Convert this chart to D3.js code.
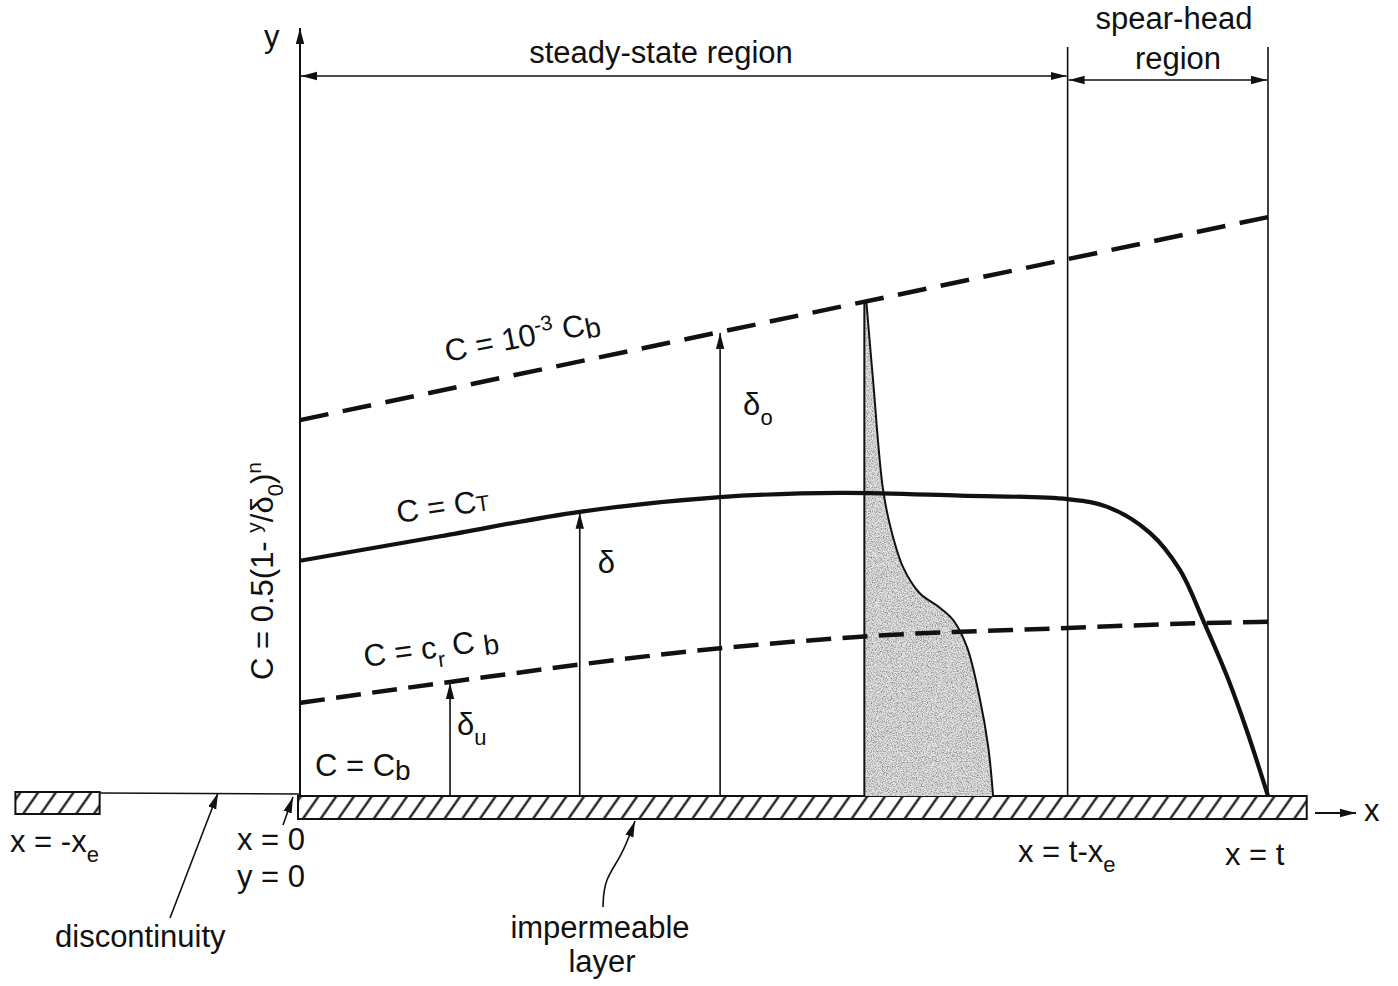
<!DOCTYPE html>
<html><head><meta charset="utf-8">
<script src="https://cdn.jsdelivr.net/npm/d3@7"></script>
<style>html,body{margin:0;background:#fff}svg{display:block}</style>
</head><body>
<svg id="chart"></svg>
<script>
// Concentration layers above an impermeable bed: x runs along the bed (front at x = t), y upward.
const W = 1398, H = 986;

// Outer edge of the layer, C = 10^-3 Cb (thickness δo)
const outerX = [0, 1];
const outerY = [0.537, 0.827];
// C = CT boundary (thickness δ): rises in the steady-state region, drops to the bed in the spear-head
const ctX = [0, 0.145, 0.289, 0.434, 0.558, 0.682, 0.793, 0.834, 0.878, 0.909, 0.933, 0.958, 0.978, 1];
const ctY = [0.336, 0.371, 0.406, 0.427, 0.433, 0.429, 0.424, 0.413, 0.376, 0.323, 0.251, 0.170, 0.094, 0];
// Inner boundary, C = cr Cb (thickness δu)
const innerX = [0, 0.155, 0.434, 0.583, 0.793, 0.933, 1];
const innerY = [0.133, 0.163, 0.211, 0.228, 0.240, 0.247, 0.249];
// Concentration profile at one station (right edge, top to bed)
const profX = [0.585, 0.592, 0.602, 0.610, 0.623, 0.640, 0.661, 0.675, 0.689, 0.702, 0.711, 0.716];
const profY = [0.707, 0.594, 0.441, 0.384, 0.327, 0.290, 0.269, 0.251, 0.213, 0.141, 0.070, 0];
const profStation = 0.583;
// Stations where the thicknesses are marked
const thickX = [0.155, 0.289, 0.434];
// Positions along the bed
const xe = 0.207;
const bedEnd = 1.04, leftBedStart = -0.294;

// Text
const regionText = ["steady-state region", "spear-head", "region"];
const outerEq = [["C = 10", "n"], ["-3", "sup"], [" C", "n"], ["b", "lo"]];
const ctEq = [["C = C", "n"], ["T", "cap"]];
const innerEq = [["C = c", "n"], ["r", "sub"], [" C ", "n"], ["b", "lo"]];
const bedEq = [["C = C", "n"], ["b", "lo"]];
const profileEq = [["C = 0.5(1- ", "n"], ["y", "sup"], ["/δ", "n"], ["0", "sub"], [")", "n"], ["n", "sup"]];
const thickText = [[["δ", "n"], ["u", "sub"]], [["δ", "n"]], [["δ", "n"], ["o", "sub"]]];
const leftEndText = [["x = -x", "n"], ["e", "sub"]];
const frontBackText = [["x = t-x", "n"], ["e", "sub"]];
const frontText = [["x = t", "n"]];
const originText = ["x = 0", "y = 0"];
const noteText = ["discontinuity", "impermeable", "layer"];
const axisText = ["y", "x"];

const FONT = "'Liberation Sans', Arial, Helvetica, sans-serif";
const INK = "#111";
const FS = 31;

const svg = d3.select("#chart").attr("width", W).attr("height", H)
  .style("font-family", FONT);
svg.append("rect").attr("width", W).attr("height", H).attr("fill", "#fff");

const x = d3.scaleLinear().domain([0, 1]).range([300, 1268]);
const y = d3.scaleLinear().domain([0, 1]).range([796, 96]);

const defs = svg.append("defs");
defs.append("marker").attr("id", "head")
  .attr("viewBox", "0 -5 16 10").attr("refX", 16).attr("refY", 0)
  .attr("markerUnits", "userSpaceOnUse").attr("markerWidth", 16).attr("markerHeight", 10)
  .attr("orient", "auto-start-reverse")
  .append("path").attr("d", "M0,-4.2L16,0L0,4.2Z").attr("fill", INK);

const hatch = defs.append("pattern").attr("id", "hatch")
  .attr("patternUnits", "userSpaceOnUse").attr("width", 14.5).attr("height", 14.5)
  .attr("patternTransform", "rotate(35)");
hatch.append("rect").attr("width", 14.5).attr("height", 14.5).attr("fill", "#fff");
hatch.append("line").attr("x1", 7.25).attr("x2", 7.25).attr("y1", -1).attr("y2", 16)
  .attr("stroke", INK).attr("stroke-width", 2.2);

// grain used for the stippled profile fill
const grain = defs.append("filter").attr("id", "stipple");
grain.append("feTurbulence").attr("type", "fractalNoise").attr("baseFrequency", 0.8)
  .attr("numOctaves", 3).attr("seed", 7).attr("result", "noise");
grain.append("feColorMatrix").attr("in", "noise").attr("type", "matrix")
  .attr("values", "0 0 0 0 0  0 0 0 0 0  0 0 0 0 0  1.8 0 0 0 -0.72").attr("result", "dots");
grain.append("feComposite").attr("in", "dots").attr("in2", "SourceGraphic").attr("operator", "in");

// rich text with sub/superscripts
const kinds = {
  n: { size: FS, off: 0 }, sup: { size: 21, off: -12 }, sub: { size: 22, off: 10 },
  lo: { size: 28, off: 4 }, cap: { size: 22, off: 0 }
};
function rich(parts, tx, ty, rot = 0, anchor = "start") {
  const t = svg.append("text").attr("fill", INK).attr("text-anchor", anchor)
    .attr("transform", `translate(${tx},${ty}) rotate(${rot})`);
  let cur = 0;
  parts.forEach(([s, k]) => {
    const kd = kinds[k];
    t.append("tspan").attr("font-size", kd.size).attr("dy", kd.off - cur)
      .style("white-space", "pre").text(s);
    cur = kd.off;
  });
  return t;
}
function plain(s, tx, ty, anchor = "start") {
  return svg.append("text").attr("x", tx).attr("y", ty).attr("font-size", FS)
    .attr("fill", INK).attr("text-anchor", anchor).text(s);
}
function arrow(x1, y1, x2, y2, w = 1.5, both = false) {
  const l = svg.append("line").attr("x1", x1).attr("y1", y1).attr("x2", x2).attr("y2", y2)
    .attr("stroke", INK).attr("stroke-width", w).attr("marker-end", "url(#head)");
  if (both) l.attr("marker-start", "url(#head)");
  return l;
}
// dashed path whose dashes start and finish exactly at both ends
function dashed(d, dash, gap, w) {
  const p = svg.append("path").attr("d", d).attr("fill", "none")
    .attr("stroke", INK).attr("stroke-width", w);
  const L = p.node().getTotalLength();
  const n = Math.max(1, Math.round((L - dash) / (dash + gap)));
  const per = (L - dash) / n;
  p.attr("stroke-dasharray", `${dash},${per - dash}`);
  return p;
}

const line = d3.line().x(d => x(d[0])).y(d => y(d[1]));
const zip = (a, b) => a.map((v, i) => [v, b[i]]);

// bed: detached piece left of the discontinuity, then the main impermeable layer
const bedTop = y(0), bedH = 23;
svg.append("line").attr("x1", x(-xe)).attr("x2", x(0)).attr("y1", bedTop - 3).attr("y2", bedTop - 2)
  .attr("stroke", INK).attr("stroke-width", 1.5);
svg.append("rect").attr("x", x(leftBedStart)).attr("y", bedTop - 4)
  .attr("width", x(-xe) - x(leftBedStart)).attr("height", bedH - 1)
  .attr("fill", "url(#hatch)").attr("stroke", INK).attr("stroke-width", 2);
svg.append("rect").attr("x", x(0) - 2).attr("y", bedTop)
  .attr("width", x(bedEnd) - x(0) + 2).attr("height", bedH)
  .attr("fill", "url(#hatch)").attr("stroke", INK).attr("stroke-width", 2);

// concentration profile at one station
const profLine = d3.line().x(d => x(d[0])).y(d => y(d[1])).curve(d3.curveCatmullRom.alpha(0.5));
const edge = profLine(zip(profX, profY));
const profPath = "M" + x(profStation) + "," + y(0) + "L" + x(profStation) + "," + y(profY[0]) +
  "L" + edge.slice(1) + "Z";
svg.append("path").attr("d", profPath).attr("fill", "#e4e4e4");
svg.append("path").attr("d", profPath).attr("fill", "#000").attr("filter", "url(#stipple)").attr("opacity", 0.55);
svg.append("path").attr("d", edge).attr("fill", "none")
  .attr("stroke", INK).attr("stroke-width", 2);
svg.append("line").attr("x1", x(profStation)).attr("x2", x(profStation))
  .attr("y1", y(0)).attr("y2", y(profY[0])).attr("stroke", INK).attr("stroke-width", 2);

// region boundaries
svg.append("line").attr("x1", x(1 - xe)).attr("x2", x(1 - xe)).attr("y1", y(1.07)).attr("y2", y(0))
  .attr("stroke", INK).attr("stroke-width", 1.6);
svg.append("line").attr("x1", x(1)).attr("x2", x(1)).attr("y1", y(1.07)).attr("y2", y(0))
  .attr("stroke", INK).attr("stroke-width", 1.6);

// layer boundaries
dashed(line(zip(outerX, outerY)), 29, 14, 4.5);
dashed(line.curve(d3.curveMonotoneX)(zip(innerX, innerY)), 25, 11, 4.5);
svg.append("path").attr("d", line.curve(d3.curveCatmullRom.alpha(0.5))(zip(ctX, ctY))).attr("fill", "none")
  .attr("stroke", INK).attr("stroke-width", 4.2);

// thickness arrows from the bed
const atOuter = d3.scaleLinear().domain(outerX).range(outerY);
const atCt = d3.scaleLinear().domain(ctX).range(ctY);
const atInner = d3.scaleLinear().domain(innerX).range(innerY);
const tops = [atInner(thickX[0]), atCt(thickX[1]), atOuter(thickX[2])];
thickX.forEach((xv, i) => arrow(x(xv), y(0), x(xv), y(tops[i]) + 1, 1.6));
rich(thickText[0], x(thickX[0]) + 7, 735);
rich(thickText[1], x(thickX[1]) + 18, 573);
rich(thickText[2], x(thickX[2]) + 23, 415);

// y axis
svg.append("line").attr("x1", x(0)).attr("x2", x(0)).attr("y1", y(0) + 1).attr("y2", 28)
  .attr("stroke", INK).attr("stroke-width", 2).attr("marker-end", "url(#head)");
plain(axisText[0], 264, 47);

// region extents
arrow(x(0) + 1, 76, x(1 - xe) - 1, 76, 1.6, true);
arrow(x(1 - xe) + 1, 80, x(1) - 1, 80, 1.6, true);
plain(regionText[0], 661, 63, "middle");
plain(regionText[1], 1174, 29, "middle");
plain(regionText[2], 1178, 69, "middle");

// boundary equations
rich(outerEq, 447, 362, -11);
rich(ctEq, 398, 523, -8);
rich(innerEq, 365, 667, -7.5);
rich(bedEq, 315, 776);
rich(profileEq, 273, 680, -90);

// bed annotations
rich(leftEndText, 10, 852);
plain(originText[0], 237, 850);
plain(originText[1], 237, 887);
arrow(283, 825, 293, 797, 1.6);
plain(noteText[0], 55, 947);
arrow(170, 918, 218, 793, 1.6);
plain(noteText[1], 600, 938, "middle");
plain(noteText[2], 602, 972, "middle");
svg.append("path")
  .attr("d", d3.line().curve(d3.curveBasis)([[603, 907], [604, 880], [622, 856], [635, 821]]))
  .attr("fill", "none").attr("stroke", INK).attr("stroke-width", 1.6).attr("marker-end", "url(#head)");
rich(frontBackText, 1018, 862);
rich(frontText, 1225, 865);

// x axis direction
arrow(1315, 813, 1356, 813, 1.8);
plain(axisText[1], 1364, 821);
</script>
</body></html>
